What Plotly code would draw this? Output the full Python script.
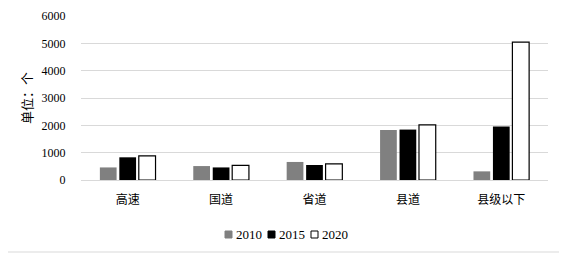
import plotly.graph_objects as go

categories = ["高速", "国道", "省道", "县道", "县级以下"]
years = ["2010", "2015", "2020"]
values_2010 = [460, 510, 660, 1830, 316]
values_2015 = [830, 460, 550, 1845, 1955]
values_2020 = [880, 535, 587, 2017, 5046]
y_ticks = [0, 1000, 2000, 3000, 4000, 5000, 6000]
y_title = "单位：个"

series = [values_2010, values_2015, values_2020]
fills = ["#808080", "#000000", "#ffffff"]
lines = ["#808080", "#000000", "#000000"]
lwidth = [0, 0, 1.2]

FONT = "Liberation Serif, Times New Roman, Noto Sans CJK SC, serif"

fig = go.Figure()
for name, vals, f, lc, lw in zip(years, series, fills, lines, lwidth):
    fig.add_trace(go.Bar(
        x=categories, y=vals, name=name,
        marker=dict(color=f, line=dict(color=lc, width=lw)),
        showlegend=False,
    ))

# page body has an 8px margin; figure sized to fit the 567x256 window
OFF = 8
W, H = 567 - OFF, 256 - OFF
ML, MR, MT, MB = 81 - OFF, 19, 16 - OFF, 76
pw, ph = W - ML - MR, H - MT - MB

def px(x):
    return (x - OFF - ML) / pw

def py(y):
    return (H + OFF - MB - y) / ph

shapes = [
    dict(type="rect", xref="paper", yref="paper",
         x0=px(2), x1=px(563), y0=py(1.5), y1=py(252),
         line=dict(color="#d9d9d9", width=1), fillcolor="rgba(0,0,0,0)", layer="below"),
]
annotations = [
    dict(xref="paper", yref="paper", x=px(27), y=py(98), text=y_title,
         textangle=-90, showarrow=False, xanchor="center", yanchor="middle",
         font=dict(family=FONT, size=13, color="#000")),
]
# custom compact legend
leg_marker_x = [225, 268, 311]
for name, f, lc, lw, mx in zip(years, fills, lines, lwidth, leg_marker_x):
    shapes.append(dict(type="rect", xref="paper", yref="paper",
                       x0=px(mx), x1=px(mx + 7), y0=py(238), y1=py(231),
                       fillcolor=f, line=dict(color=lc if lw else f, width=1)))
    annotations.append(dict(xref="paper", yref="paper", x=px(mx + 8.5), y=py(234.5),
                            text=name, showarrow=False, xanchor="left", yanchor="middle",
                            font=dict(family=FONT, size=13, color="#000")))

fig.update_layout(
    width=W, height=H,
    margin=dict(l=ML, r=MR, t=MT, b=MB, autoexpand=False),
    paper_bgcolor="white", plot_bgcolor="white",
    barmode="group", bargap=0.375, bargroupgap=0.14,
    font=dict(family=FONT, size=13, color="#000"),
    shapes=shapes, annotations=annotations,
    xaxis=dict(showgrid=False, showline=False, zeroline=False, automargin=False,
               ticks="outside", ticklen=9, tickcolor="rgba(0,0,0,0)",
               tickfont=dict(family=FONT, size=12)),
    yaxis=dict(range=[0, 6000], tickvals=y_ticks, showgrid=True, automargin=False,
               gridcolor="#d9d9d9", gridwidth=1, zeroline=True,
               zerolinecolor="#d9d9d9", zerolinewidth=1, showline=False,
               ticks="outside", ticklen=12, tickcolor="rgba(0,0,0,0)",
               tickfont=dict(family=FONT, size=12)),
)

fig.write_html("out.html")
